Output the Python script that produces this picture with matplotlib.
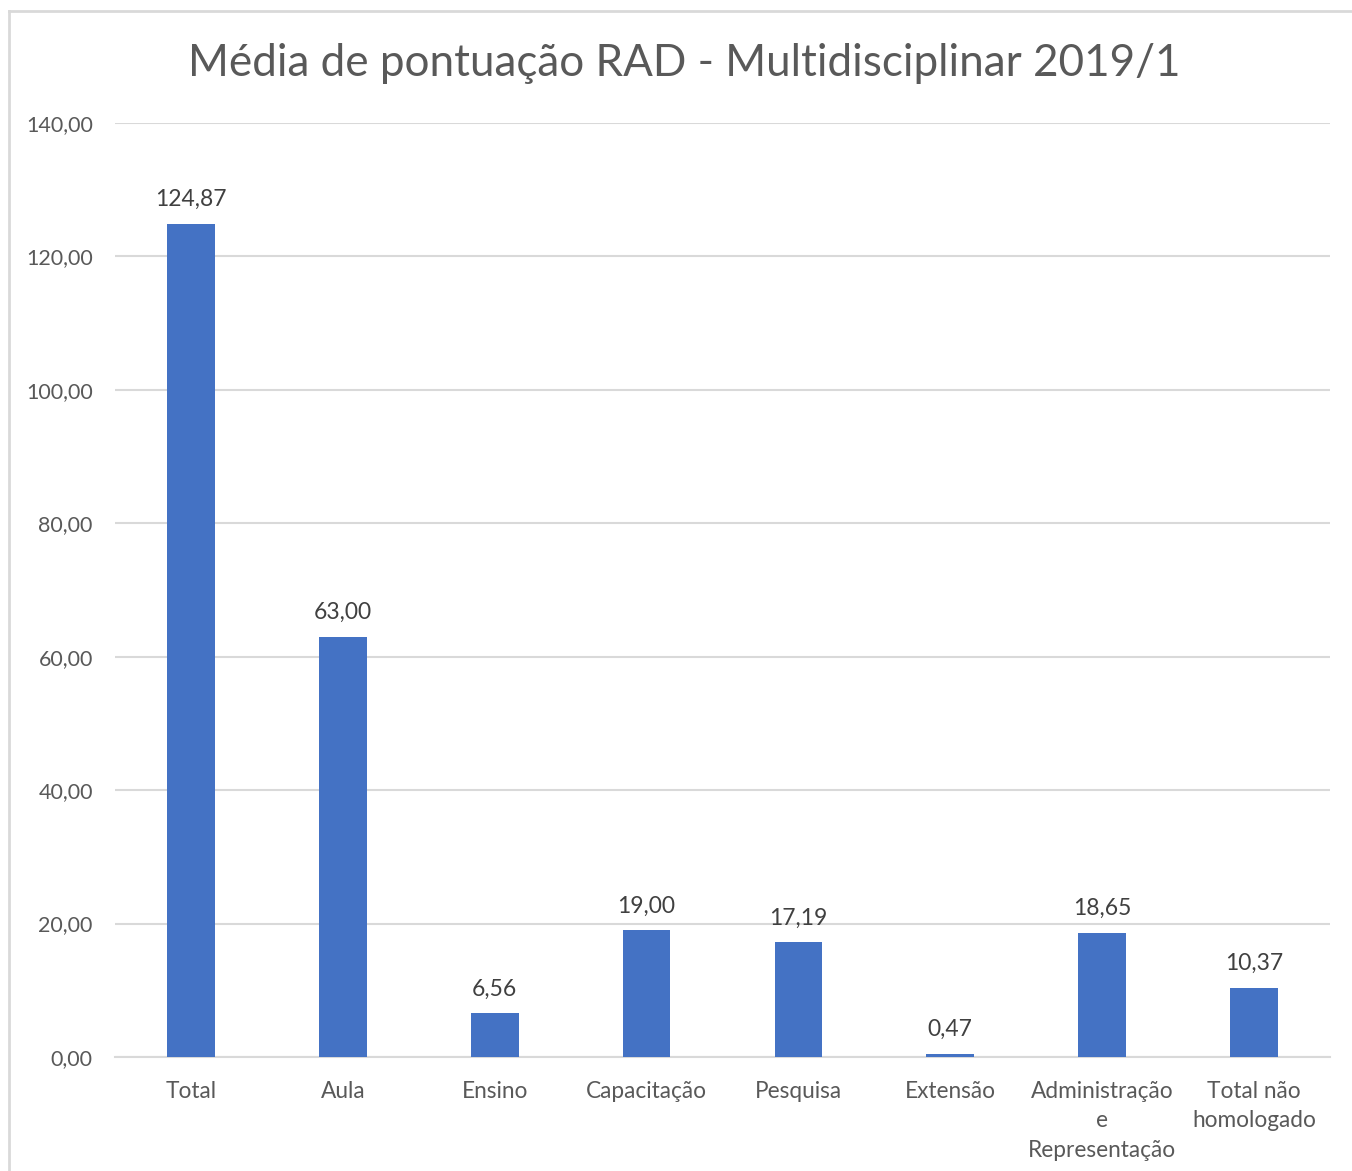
import matplotlib
matplotlib.use("Agg")
import matplotlib.pyplot as plt
from matplotlib.lines import Line2D

categories = ["Total", "Aula", "Ensino", "Capacitação", "Pesquisa", "Extensão",
              "Administração\ne\nRepresentação", "Total não\nhomologado"]
values = [124.87, 63.00, 6.56, 19.00, 17.19, 0.47, 18.65, 10.37]
yticks = [0, 20, 40, 60, 80, 100, 120, 140]
title = "Média de pontuação RAD - Multidisciplinar 2019/1"

plt.rcParams['font.family'] = ['Lato', 'DejaVu Sans']

def fmt(v):
    return f"{v:.2f}".replace(".", ",")

fig = plt.figure(figsize=(13.52, 11.71), dpi=100)
ax = fig.add_axes([115/1352, 1-1057/1171, (1330-115)/1352, (1057-123)/1171])

x = list(range(len(categories)))
bars = ax.bar(x, values, width=0.315, color="#4472C4", zorder=3)
ax.set_xlim(-0.5, len(categories)-0.5)
ax.set_ylim(0, 140)
ax.set_yticks(yticks)
ax.set_yticklabels([fmt(t) for t in yticks])
ax.set_xticks(x)
ax.set_xticklabels(categories, linespacing=1.5, va="top")
ax.grid(axis="y", color="#D9D9D9", linewidth=1.5, zorder=0)
ax.tick_params(axis="both", length=0, labelcolor="#595959")
ax.tick_params(axis="y", pad=16, labelsize=15.5)
ax.tick_params(axis="x", pad=17, labelsize=16.3)
for s in ["top", "right", "left"]:
    ax.spines[s].set_visible(False)
ax.spines["bottom"].set_color("#D9D9D9")
ax.spines["bottom"].set_linewidth(1.5)

for b, v in zip(bars, values):
    ax.annotate(fmt(v), (b.get_x()+b.get_width()/2, v), xytext=(0, 10),
                textcoords="offset points", ha="center", va="bottom",
                fontsize=16.5, color="#404040")

fig.text(684/1352, 1-63/1171, title, ha="center", va="center",
         fontsize=31.7, color="#595959")

# outer chart border (left and top)
fig.add_artist(Line2D([9/1352, 9/1352], [0, 1-11/1171], transform=fig.transFigure,
                      color="#D9D9D9", linewidth=2))
fig.add_artist(Line2D([9/1352, 1], [1-11/1171, 1-11/1171], transform=fig.transFigure,
                      color="#D9D9D9", linewidth=2))

fig.savefig("out.png", dpi=100)
